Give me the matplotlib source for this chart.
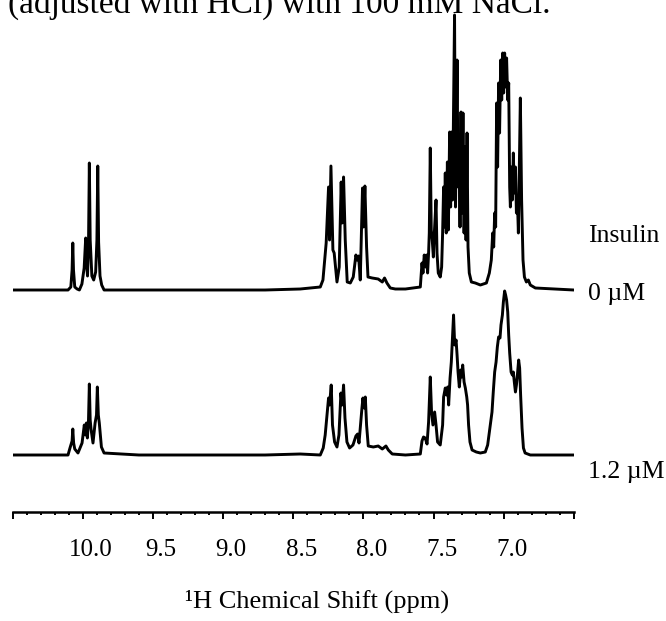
import matplotlib
matplotlib.use("Agg")
import matplotlib.pyplot as plt
from matplotlib.ticker import FixedLocator, MultipleLocator
from matplotlib.transforms import ScaledTranslation

plt.rcParams['font.family'] = ['Liberation Serif', 'DejaVu Serif']

# (ppm, intensity), insulin 0 uM (upper spectrum)
top_indole = [(10.50, 0), (10.30, 0), (10.105, 0), (10.085, 3), (10.076, 20), (10.071, 47),
              (10.066, 20), (10.057, 3), (10.040, 1), (10.024, 0), (10.006, 6), (9.990, 22),
              (9.979, 52), (9.972, 25), (9.966, 14), (9.959, 45), (9.953, 127), (9.947, 50),
              (9.935, 14), (9.922, 10), (9.908, 18), (9.899, 50), (9.893, 124), (9.887, 48),
              (9.877, 14), (9.865, 5), (9.848, 0), (9.60, 0), (9.30, 0), (9.00, 0), (8.70, 0),
              (8.45, 1)]
top_amide = [(8.307, 3), (8.288, 10), (8.265, 47), (8.248, 103), (8.241, 50), (8.231, 124),
             (8.217, 40), (8.208, 37), (8.188, 8), (8.172, 23), (8.158, 108), (8.151, 67),
             (8.141, 113), (8.129, 50), (8.115, 8), (8.093, 7), (8.072, 13), (8.053, 35),
             (8.044, 30), (8.034, 34), (8.022, 10), (8.006, 102), (7.999, 63), (7.989, 104),
             (7.977, 43), (7.967, 13), (7.937, 12), (7.894, 11), (7.865, 8), (7.849, 12),
             (7.832, 7), (7.808, 2), (7.772, 1), (7.70, 1)]
top_arom = [(7.594, 3), (7.582, 27), (7.575, 17), (7.566, 35), (7.556, 23), (7.549, 35),
            (7.542, 17), (7.535, 37), (7.530, 57), (7.523, 142), (7.516, 60), (7.509, 50),
            (7.501, 33), (7.494, 57), (7.482, 90), (7.475, 37), (7.466, 17), (7.452, 13),
            (7.442, 23), (7.435, 57), (7.428, 103), (7.423, 63), (7.416, 117), (7.409, 57),
            (7.401, 128), (7.394, 60), (7.385, 158), (7.378, 83), (7.371, 158), (7.364, 90),
            (7.350, 275), (7.343, 83), (7.332, 230), (7.325, 103), (7.318, 150), (7.311, 63),
            (7.304, 178), (7.297, 77), (7.290, 177), (7.282, 57), (7.275, 143), (7.268, 50),
            (7.261, 157), (7.254, 43), (7.245, 17), (7.230, 8), (7.202, 7), (7.166, 5),
            (7.123, 7), (7.102, 17), (7.088, 30), (7.078, 57), (7.071, 43), (7.064, 77),
            (7.057, 63), (7.050, 187), (7.043, 123), (7.036, 207), (7.029, 157), (7.021, 230),
            (7.014, 190), (7.007, 237), (7.000, 197), (6.993, 237), (6.986, 203), (6.979, 232),
            (6.971, 190), (6.964, 207), (6.957, 103), (6.952, 83), (6.945, 123), (6.938, 90),
            (6.931, 137), (6.924, 97), (6.916, 123), (6.909, 77), (6.902, 90), (6.895, 57),
            (6.881, 192), (6.872, 90), (6.862, 30), (6.852, 13), (6.838, 8), (6.824, 10),
            (6.810, 5), (6.774, 2), (6.50, 0)]

# insulin 1.2 uM (lower spectrum)
low_indole = [(10.50, 0), (10.30, 0), (10.105, 0), (10.091, 7), (10.076, 14), (10.071, 26),
              (10.065, 12), (10.057, 6), (10.034, 2), (10.005, 12), (9.989, 30), (9.981, 20),
              (9.974, 32), (9.967, 17), (9.959, 35), (9.953, 71), (9.947, 35), (9.941, 26),
              (9.927, 12), (9.912, 32), (9.902, 40), (9.896, 68), (9.889, 40), (9.882, 32),
              (9.867, 8), (9.848, 2), (9.60, 0), (9.30, 0), (9.00, 0), (8.70, 0), (8.45, 1)]
low_amide = [(8.307, 0), (8.286, 7), (8.272, 20), (8.257, 43), (8.248, 57), (8.241, 50),
             (8.229, 70), (8.220, 30), (8.205, 13), (8.188, 8), (8.174, 20), (8.160, 62),
             (8.151, 50), (8.141, 70), (8.131, 37), (8.117, 13), (8.098, 7), (8.074, 10),
             (8.053, 19), (8.041, 21), (8.031, 12), (8.010, 47), (8.003, 57), (7.994, 47),
             (7.986, 58), (7.977, 30), (7.965, 9), (7.929, 8), (7.894, 9), (7.865, 6),
             (7.839, 9), (7.822, 5), (7.794, 1), (7.70, 0)]
low_arom = [(7.594, 1), (7.582, 14), (7.571, 18), (7.559, 17), (7.546, 11), (7.535, 33),
            (7.523, 78), (7.514, 43), (7.504, 30), (7.492, 43), (7.482, 30), (7.471, 13),
            (7.452, 10), (7.435, 30), (7.428, 58), (7.416, 67), (7.407, 60), (7.399, 68),
            (7.392, 50), (7.382, 77), (7.373, 93), (7.366, 113), (7.357, 140), (7.349, 110),
            (7.339, 115), (7.332, 100), (7.325, 83), (7.316, 68), (7.306, 85), (7.299, 78),
            (7.292, 90), (7.282, 73), (7.273, 67), (7.263, 58), (7.257, 50), (7.250, 30),
            (7.240, 13), (7.225, 5), (7.195, 3), (7.166, 2), (7.131, 3), (7.114, 10),
            (7.102, 23), (7.093, 33), (7.083, 43), (7.074, 63), (7.064, 83), (7.054, 93),
            (7.045, 108), (7.036, 118), (7.026, 117), (7.019, 130), (7.009, 140), (7.002, 153),
            (6.993, 164), (6.986, 160), (6.979, 155), (6.971, 143), (6.964, 120), (6.957, 102),
            (6.947, 83), (6.938, 80), (6.931, 83), (6.924, 73), (6.916, 63), (6.909, 70),
            (6.902, 80), (6.893, 95), (6.886, 87), (6.879, 60), (6.869, 27), (6.859, 7),
            (6.847, 2), (6.810, 0), (6.50, 0)]

tick_ppm = [10.5, 10.0, 9.5, 9.0, 8.5, 8.0, 7.5, 7.0, 6.5]
tick_labels = ['', '10.0', '9.5', '9.0', '8.5', '8.0', '7.5', '7.0', '']
trace_names = ['0 \u00b5M', '1.2 \u00b5M']

W, H = 666, 621
fig = plt.figure(figsize=(W / 100, H / 100), dpi=100)
ax = fig.add_axes([12.6 / W, 1 - 511.7 / H, (573.8 - 12.6) / W, 511.7 / H])

# stacked traces, upper one shifted up
traces = [top_indole + top_amide + top_arom, low_indole + low_amide + low_arom]
offsets = [221.7, 56.7]
for trace, off in zip(traces, offsets):
    ppm = [p for p, v in trace]
    inten = [v + off for p, v in trace]
    ax.plot(ppm, inten, color='black', lw=2.1, solid_joinstyle='round')

ax.set_xlim(10.5, 6.5)
ax.set_ylim(0, 511.7)

for side in ['left', 'right', 'top']:
    ax.spines[side].set_visible(False)
ax.spines['bottom'].set_linewidth(1.8)
ax.set_yticks([])

ax.xaxis.set_major_locator(FixedLocator(tick_ppm))
ax.set_xticklabels(tick_labels)
ax.xaxis.set_minor_locator(MultipleLocator(0.1))
ax.tick_params(axis='x', which='major', direction='out', length=5.3, width=1.4,
               pad=14, labelsize=18)
ax.tick_params(axis='x', which='minor', direction='out', length=2.4, width=1.4)

# labels sit a little right of their ticks in the original
shift = ScaledTranslation(0.08, 0, fig.dpi_scale_trans)
for tick in ax.xaxis.get_major_ticks():
    tick.label1.set_transform(tick.label1.get_transform() + shift)

ax.set_xlabel('\u00b9H Chemical Shift (ppm)', fontsize=19)
ax.xaxis.set_label_coords((317 - 12.6) / 561.2, -(590 - 511.7) / 511.7)

fig.text(588 / W, 1 - 242 / H, 'Insulin', fontsize=18.5, va='baseline', ha='left')
fig.text(588 / W, 1 - 300 / H, trace_names[0], fontsize=18.5, va='baseline', ha='left')
fig.text(588 / W, 1 - 478 / H, trace_names[1], fontsize=18.5, va='baseline', ha='left')

# caption line cut off at the top of the crop, as in the source image
fig.text(8.5 / W, 1 - 12.5 / H, '(adjusted with HCl) with 100 mM NaCl.', fontsize=24,
         va='baseline', ha='left')

fig.savefig('out.png', dpi=100)
